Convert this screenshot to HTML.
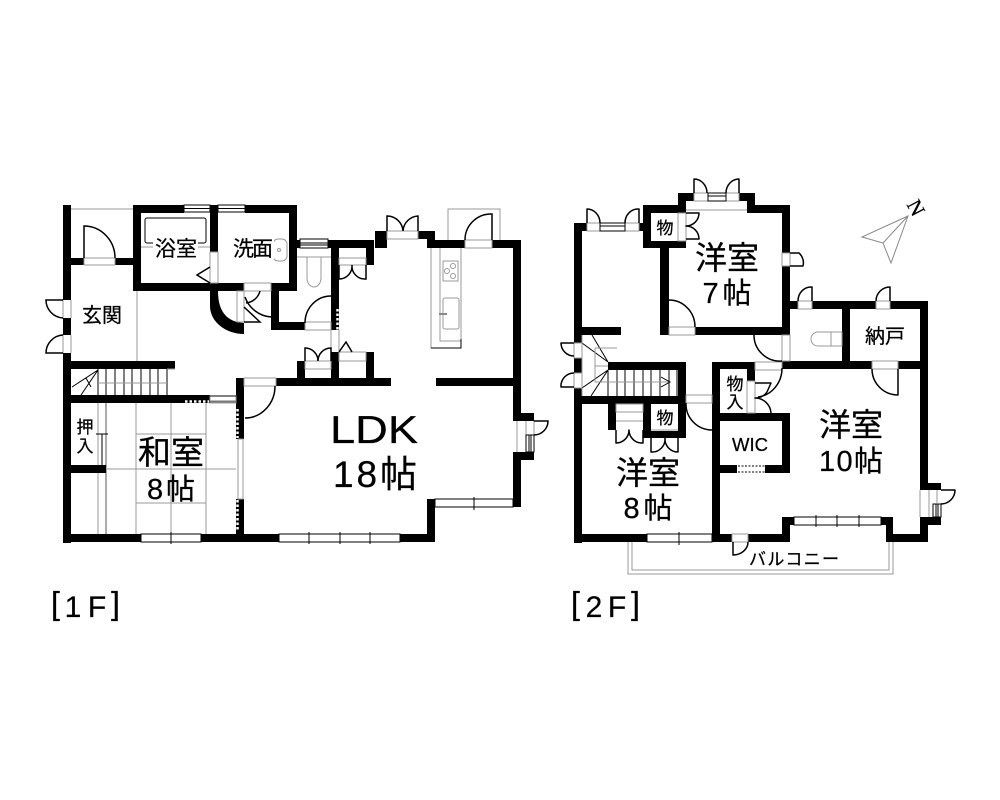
<!DOCTYPE html>
<html lang="ja"><head><meta charset="utf-8"><style>
html,body{margin:0;padding:0;background:#fff}
svg{display:block}
text{font-family:"Liberation Sans","Noto Sans CJK JP",sans-serif;text-anchor:middle;fill:#000;stroke:#000;stroke-width:.25}
.g{fill:none;stroke:#999;stroke-width:1}
.gt{fill:none;stroke:#aaa;stroke-width:2}
.k{fill:none;stroke:#000;stroke-width:1.5}
.t{fill:none;stroke:#000;stroke-width:1}
.w{fill:#fff;stroke:#000;stroke-width:1}
.h{fill:#fff;stroke:#999;stroke-width:1}
</style></head><body>
<svg width="1000" height="800" viewBox="0 0 1000 800" xmlns="http://www.w3.org/2000/svg">
<rect width="1000" height="800" fill="#fff"/>

<!-- 1F outside porch lines -->
<path class="g" d="M71 209H133M448 240V209H500V240"/>
<!-- 1F tatami & interior lines -->
<path class="g" d="M137 291V361M136 403V534M206 403V534M106 469H136M206 469H236M136 434H206M136 503H206M171 403V434M171 503V534M98 403V534"/>
<path class="gt" d="M106 403V534"/>
<!-- 1F walls -->
<path fill="#000" d="M63 205h8v95h-8zM63 318h8v17h-8zM63 353h8v190h-8zM71 258h13v7h-13zM115 258h18v7h-18zM133 205h51v8h-51zM245 205h52v8h-52zM210 205h8v47h-8zM133 205h8v86h-8zM133 283h111v8h-111zM289 205h8v86h-8zM271 283h26v8h-26zM271 283h8v47h-8zM271 322h34v8h-34zM71 361h104v8h-104zM71 395h139v8h-139zM71 465h35v8h-35zM63 534h78v8h-78zM201 534h78v8h-78zM400 534h35v8h-35zM427 499h8v43h-8zM513 240h8v181h-8zM513 413h21v8h-21zM513 452h21v8h-21zM513 452h8v55h-8zM436 378h77v8h-77zM276 378h115v8h-115zM236 378h8v61h-8zM236 499h8v35h-8zM331 240h8v90h-8zM331 352h8v26h-8zM297 361h8v17h-8zM366 352h8v26h-8zM297 240h3v8h-3zM328 240h46v8h-46zM366 240h8v25h-8zM375 231h12v17h-12zM418 231h17v8h-17zM427 231h8v17h-8zM435 240h30v8h-30zM492 240h29v8h-29z"/>
<path fill="#000" d="M210 291V306C210 322 226 334 244 334V323C230 322 218 315 218 291Z"/>
<!-- 1F dashes (white over wall) -->
<path d="M337.500 309V330" stroke="#fff" stroke-width="2.500" stroke-dasharray="2.500 2" fill="none"/>
<path d="M237.500 409V438M237.500 500V530" stroke="#fff" stroke-width="2.500" stroke-dasharray="2.500 2" fill="none"/>
<path d="M185 401.500H209" stroke="#fff" stroke-width="2.500" stroke-dasharray="2.500 2" fill="none"/>
<path class="g" d="M331 330V352M339 330V352"/>
<path class="g" d="M63 300V318M71 300V318M63 335V353M71 335V353M84 258V265M115 258V265M84 258H115M84 265H115"/>
<!-- 1F windows -->
<rect class="w" x="184" y="205" width="26" height="7"/><path class="t" d="M184 208.500H210"/>
<rect class="w" x="218" y="205" width="27" height="7"/><path class="t" d="M218 208.500H245"/>
<rect class="w" x="300" y="239" width="28" height="9"/><path class="t" d="M300 243H328M300 245H328"/>
<rect class="w" x="141" y="534" width="60" height="8"/><path class="t" d="M171 532V544"/>
<rect class="w" x="279" y="534" width="121" height="8"/><path class="t" d="M309 532V544M340 532V544M370 532V544"/>
<rect class="w" x="435" y="499" width="78" height="8"/><path class="t" d="M474 497V510"/>
<rect x="238" y="439" width="5" height="60" fill="#fff" stroke="#999"/>
<rect x="210" y="396" width="26" height="7" fill="#fff" stroke="#999"/>
<path d="M210 401.500H236" stroke="#777" stroke-width="2" fill="none"/>
<path class="t" d="M210 396H236" stroke="#555"/>
<rect class="h" x="210" y="252" width="8" height="31"/>
<rect class="h" x="244" y="283" width="27" height="8"/>
<rect class="h" x="237" y="291" width="7" height="31"/>
<rect class="h" x="305" y="322" width="26" height="8"/>
<rect class="h" x="244" y="378" width="32" height="8"/>
<rect class="h" x="387" y="231" width="31" height="8"/>
<rect class="h" x="465" y="240" width="27" height="8"/>
<rect class="h" x="339" y="258" width="27" height="7"/>
<rect class="h" x="305" y="361" width="26" height="8"/>
<rect class="h" x="339" y="352" width="27" height="9"/>
<path class="g" d="M297 257H331M305 369H331M339 361H366M517 421V452M526 421V452M534 421V435"/>
<!-- 1F doors -->
<path class="k" d="M84 258V226A31 32 0 0 1 115 258M63 300H46A18 18 0 0 0 63 318M63 335A18 18 0 0 0 46 353H63M331 296A26 27 0 0 0 305 323M271 317A30 30 0 0 1 245 297M260 291A16 16 0 0 1 246 303M244 307L260 322H244M339 265V279A13 13 0 0 0 352 265A13 13 0 0 0 366 279V265M387 231V216A16 16 0 0 1 403 231A16 16 0 0 1 418 216V231M465 240A26 26 0 0 1 492 214V240M275 386A30 32 0 0 1 245 418M534 421H548A14 14 0 0 1 534 435M305 361V348A13 13 0 0 1 318 361A13 13 0 0 1 331 348V361M339 352L346 342L352 352"/>
<path d="M526 435h8v17h-8zM529 435v17M531 435v17" fill="none" stroke="#000" stroke-width="1"/>
<!-- Bath -->
<rect class="t" x="145" y="218" width="61" height="25" rx="2" stroke="#777"/>
<path class="g" d="M141 247H210"/>
<path class="k" d="M210 267L197 275L210 283" stroke-width="1"/>
<rect class="g" x="273" y="239" width="14" height="22" rx="5"/><circle cx="279" cy="250" r="1.500" class="g"/>
<path class="g" d="M307 257V278A7 9 0 0 0 321 278V257"/>
<!-- Kitchen -->
<path class="g" d="M431 248V348H461V248M440 248V341H461"/>
<path class="t" d="M431 348H461V339" stroke-width="1.200"/>
<rect class="g" x="443" y="261" width="15" height="20"/>
<circle class="g" cx="453" cy="266" r="2.500"/><circle class="g" cx="447" cy="271" r="2.500"/><circle class="g" cx="453" cy="276" r="2.500"/>
<rect class="g" x="443" y="298" width="16" height="31" rx="2"/>
<path d="M439 314H447" stroke="#888" stroke-width="2"/>
<!-- 1F stairs -->
<path class="t" d="M98 369V395M106 369V395M115 369V395M124 369V395M132 369V395M141 369V395M150 369V395M158 369V395M167 369V395M72 387L98 370M81 395L98 370M86 378L91 387" stroke-width="1.200"/>
<path class="g" d="M98 383H167M167 369H175"/>
<!-- closet tick -->
<path class="t" d="M96 434H108M102 434V465"/>

<!-- 2F balcony -->
<path class="g" d="M628 542V574H893V542M632 542V570H889V542"/>
<!-- 2F walls -->
<path fill="#000" d="M574 223h8v120h-8zM574 358h8v15h-8zM574 388h8v155h-8zM574 223h13v8h-13zM639 223h5v8h-5zM643 205h8v43h-8zM643 241h43v7h-43zM643 205h43v8h-43zM678 193h8v20h-8zM678 193h16v8h-16zM737 193h18v8h-18zM747 193h8v20h-8zM747 205h43v8h-43zM782 205h8v48h-8zM782 266h8v70h-8zM660 248h9v87h-9zM695 327h95v8h-95zM574 327h47v8h-47zM608 362h78v8h-78zM678 362h8v76h-8zM574 396h112v8h-112zM608 396h8v34h-8zM643 396h8v42h-8zM643 431h43v7h-43zM574 534h73v8h-73zM712 362h8v180h-8zM712 362h43v7h-43zM747 362h8v19h-8zM782 361h90v8h-90zM898 361h30v8h-30zM842 301h8v68h-8zM789 301h9v8h-9zM812 301h64v8h-64zM890 301h38v8h-38zM920 301h8v182h-8zM920 483h21v7h-21zM920 517h21v8h-21zM920 517h8v25h-8zM886 534h42v8h-42zM886 517h7v25h-7zM881 517h12v8h-12zM782 517h12v8h-12zM782 517h8v25h-8zM720 534h12v8h-12zM748 534h42v8h-42zM720 413h70v8h-70zM782 413h8v60h-8zM765 465h25v8h-25zM720 465h17v8h-17z"/>
<!-- 2F gap boxes -->
<rect class="h" x="574" y="343" width="8" height="15"/>
<rect class="h" x="574" y="373" width="8" height="15"/>
<rect class="h" x="587" y="223" width="13" height="8"/>
<rect class="h" x="625" y="223" width="14" height="8"/>
<rect class="w" x="600" y="223" width="25" height="8"/><path class="t" d="M600 226H625"/>
<rect class="h" x="694" y="193" width="14" height="8"/>
<rect class="h" x="726" y="193" width="13" height="8"/>
<rect class="w" x="708" y="193" width="18" height="8"/><path class="t" d="M708 196H726"/>
<path class="g" d="M686 210H747"/>
<rect class="h" x="678" y="213" width="8" height="28"/>
<rect class="h" x="669" y="327" width="26" height="8"/>
<rect class="h" x="782" y="253" width="8" height="13"/>
<rect class="h" x="798" y="301" width="14" height="8"/>
<rect class="h" x="876" y="301" width="14" height="8"/>
<rect class="h" x="872" y="361" width="26" height="8"/>
<rect class="h" x="755" y="362" width="27" height="8"/>
<rect class="h" x="782" y="335" width="8" height="26"/>
<rect class="h" x="686" y="395" width="26" height="8"/>
<rect class="h" x="616" y="404" width="27" height="8"/>
<rect class="h" x="747" y="381" width="8" height="32"/>
<rect class="h" x="732" y="534" width="16" height="8"/>
<path class="g" d="M616 421H643M651 430H678M920 490V517M929 490V517M937 490V503"/>
<rect class="w" x="647" y="534" width="65" height="8"/><path class="t" d="M679 532V545"/>
<rect class="w" x="794" y="517" width="87" height="8"/><path class="t" d="M816 515V527M837 515V527M859 515V527"/>
<rect x="738" y="466" width="27" height="6" fill="#fff"/>
<path class="t" d="M738 466H765M738 472H765" stroke-dasharray="2 1.500"/>
<!-- 2F doors -->
<path class="k" d="M574 343H561A13 13 0 0 0 574 356M574 373A13 13 0 0 0 561 387H574M587 223V209A13 14 0 0 1 600 223M625 223A13 14 0 0 1 639 209V223M694 193V179A13 14 0 0 1 707 193M726 193A13 14 0 0 1 739 179V193M686 213H699A13 13 0 0 1 686 226A13 13 0 0 1 699 239H686M669 300A26 27 0 0 1 695 327M790 253H799A13 13 0 0 1 803 266H790M798 301A13 14 0 0 1 812 287V301M876 301A14 14 0 0 1 890 287V301M872 369A26 26 0 0 0 898 395V369M754 335A26 26 0 0 0 782 361M782 368A27 29 0 0 1 758 397M686 403A26 26 0 0 0 712 430M616 430V443A13 13 0 0 0 629 430A13 13 0 0 0 643 443V430M651 438V452A13 13 0 0 0 665 438A13 13 0 0 0 678 452V438M733 542V555A15 13 0 0 0 748 542M941 490H955A14 14 0 0 1 941 504M755 383H771L767 392A14 14 0 0 1 755 398A16 16 0 0 1 771 413" stroke-linejoin="round"/>
<rect x="933" y="504" width="8" height="13" fill="none" stroke="#000" stroke-width="1"/><path class="t" d="M936 504V517M938 504V517"/>
<!-- toilet 2F -->
<path class="g" d="M842 332V346H831V332Z"/>
<path class="g" d="M831 332H818A7 7 0 0 0 818 346H831"/>
<!-- 2F stairs -->
<path class="t" d="M617 370V396M625 370V396M634 370V396M643 370V396M651 370V396M660 370V396M669 370V396M677 370V396M608 370V396M582 343L608 362M592 335L608 362M582 388L608 370M591 396L608 370" stroke-width="1.200"/>
<path class="g" d="M582 335V396M595 348V382M595 348H617M595 366H608M595 382H669" stroke-width="1.500"/>
<path class="t" d="M661 377L670 382L661 387"/>
<!-- North arrow -->
<path d="M908 216L862 237L883 243L891 263ZM908 216L883 243" fill="none" stroke="#888" stroke-width="1"/>
<text x="917" y="213" font-size="21" transform="rotate(62 915 206)" style='font-family:"Liberation Serif",serif'>N</text>

<!-- Labels -->
<g>
<rect x="153" y="238" width="45" height="21" fill="#fff"/>
<rect x="231" y="238" width="43" height="21" fill="#fff"/>
<text x="102" y="322" font-size="20" textLength="40">玄関</text>
<text x="176" y="256" font-size="21" textLength="42">浴室</text>
<text x="253" y="256" font-size="21" textLength="40">洗面</text>
<text x="85" y="433" font-size="17">押</text>
<text x="85" y="452" font-size="17">入</text>
<rect x="139" y="437" width="65" height="64" fill="#fff"/>
<path class="g" d="M171 434V503M136 469H206"/>
<text x="171" y="464" font-size="33" textLength="66">和室</text>
<text x="171" y="499" font-size="29" textLength="48">8帖</text>
<text x="374" y="443" font-size="39" textLength="88" lengthAdjust="spacingAndGlyphs">LDK</text>
<text x="375" y="487" font-size="37" textLength="84">18帖</text>
<text x="665" y="234" font-size="17">物</text>
<text x="665" y="424" font-size="17">物</text>
<text x="735" y="390" font-size="17">物</text>
<text x="735" y="408" font-size="17">入</text>
<text x="727" y="269" font-size="32" textLength="64">洋室</text>
<text x="727" y="303" font-size="29" textLength="49">7帖</text>
<text x="648" y="484" font-size="32" textLength="64">洋室</text>
<text x="648" y="518" font-size="29" textLength="49">8帖</text>
<text x="851" y="436" font-size="32" textLength="64">洋室</text>
<text x="851" y="471" font-size="29" textLength="64">10帖</text>
<text x="885" y="343" font-size="20" textLength="40">納戸</text>
<text x="750" y="451" font-size="18" textLength="36" lengthAdjust="spacingAndGlyphs">WIC</text>
<text x="794" y="565" font-size="17" textLength="90">バルコニー</text>
<text x="55.500" y="614.500" font-size="32">[</text>
<text x="73" y="617" font-size="30">1</text>
<text x="97" y="617" font-size="30">F</text>
<text x="115.500" y="614.500" font-size="32">]</text>
<text x="575.500" y="614.500" font-size="32">[</text>
<text x="594" y="617" font-size="30">2</text>
<text x="617" y="617" font-size="30">F</text>
<text x="635.500" y="614.500" font-size="32">]</text>
</g>
</svg>
</body></html>
